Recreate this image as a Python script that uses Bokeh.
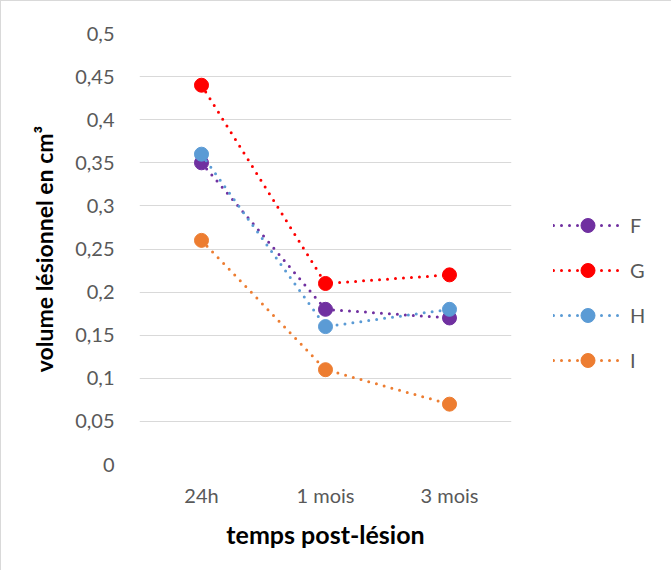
from bokeh.plotting import figure
from bokeh.models import FixedTicker, Legend, LegendItem, Range1d
from bokeh.embed import file_html
from bokeh.resources import INLINE

categories = ["24h", "1 mois", "3 mois"]
series_names = ["F", "G", "H", "I"]
F = [0.35, 0.18, 0.17]
G = [0.44, 0.21, 0.22]
H = [0.36, 0.16, 0.18]
I = [0.26, 0.11, 0.07]
colors = ["#7030A0", "#FF0000", "#5B9BD5", "#ED7D31"]
y_ticks = [0, 0.05, 0.1, 0.15, 0.2, 0.25, 0.3, 0.35, 0.4, 0.45, 0.5]
y_tick_labels = ["0", "0,05", "0,1", "0,15", "0,2", "0,25", "0,3", "0,35", "0,4", "0,45", "0,5"]

FONT = "Lato"

p = figure(x_range=categories, frame_width=372, frame_height=431, output_backend="svg",
           toolbar_location=None, min_border_left=138, min_border_right=0,
           min_border_top=32, min_border_bottom=106)
p.y_range = Range1d(0, 0.5)
p.styles = {"border-left": "1px solid #d9d9d9", "border-top": "1px solid #d9d9d9"}
p.outline_line_color = None
p.xgrid.grid_line_color = None
p.ygrid.grid_line_color = "#d9d9d9"
p.ygrid.grid_line_width = 1
p.yaxis.ticker = FixedTicker(ticks=y_ticks)
p.yaxis.major_label_overrides = {t: l for t, l in zip(y_ticks, y_tick_labels)}

for ax in (p.xaxis, p.yaxis):
    ax.axis_line_color = None
    ax.major_tick_line_color = None
    ax.minor_tick_line_color = None
    ax.major_label_text_color = "#595959"
    ax.major_label_text_font = FONT
    ax.major_label_text_font_size = "20px"
    ax.axis_label_text_font = FONT
    ax.axis_label_text_font_style = "bold"
    ax.axis_label_text_color = "#000000"

p.xaxis.axis_label_text_font_size = "25px"
p.yaxis.axis_label_text_font_size = "23px"
p.yaxis.major_label_standoff = 19
p.xaxis.major_label_standoff = 12
p.yaxis.axis_label = "volume lésionnel en cm³"
p.xaxis.axis_label = "temps post-lésion"
p.yaxis.axis_label_standoff = 14
p.xaxis.axis_label_standoff = 9

items = []
for name, vals, c in zip(series_names, [F, G, H, I], colors):
    ln = p.line(categories, vals, line_color=c, line_width=3, line_dash="0 8",
                line_cap="round")
    sc = p.scatter(categories, vals, size=14, fill_color=c, line_color=c)
    items.append(LegendItem(label=name, renderers=[ln, sc]))

legend = Legend(items=items, location="center_left", orientation="vertical",
                glyph_width=69, glyph_height=35, label_height=20, spacing=10,
                label_width=25, padding=0, margin=42, label_standoff=8,
                title=" ", title_text_font_size="20px", title_standoff=64,
                label_text_font=FONT, label_text_font_size="20px",
                label_text_color="#595959", border_line_color=None,
                background_fill_alpha=0)
p.add_layout(legend, "right")

open("out.html", "w").write(file_html(p, INLINE))
